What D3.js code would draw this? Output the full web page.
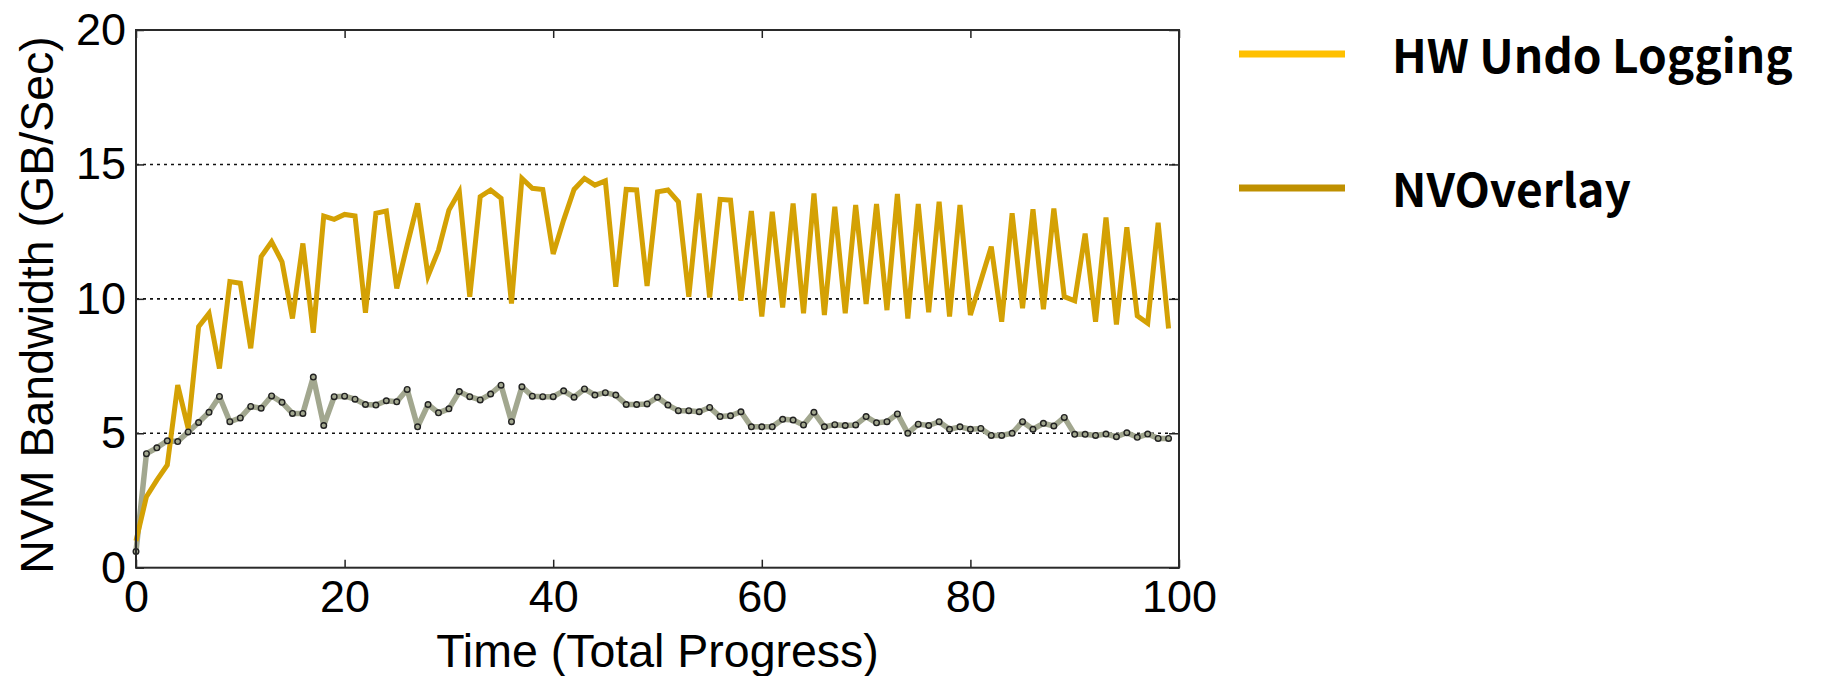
<!DOCTYPE html>
<html>
<head>
<meta charset="utf-8">
<script src="https://cdn.jsdelivr.net/npm/d3@7"></script>
<style>
  body { margin: 0; background: #fff; }
  svg { display: block; }
</style>
</head>
<body>
<div id="chart"></div>
<script>
// values, one per progress step (0..99)
var hwUndo = [
  1.0, 2.64, 3.26, 3.82, 6.79, 5.18, 8.96, 9.46, 7.41, 10.64,
  10.58, 8.16, 11.57, 12.12, 11.38, 9.27, 12.06, 8.74, 13.08, 12.96,
  13.14, 13.08, 9.48, 13.18, 13.27, 10.39, 12.0, 13.55, 10.85, 11.81,
  13.30, 13.98, 10.08, 13.80, 14.05, 13.74, 9.83, 14.48, 14.11, 14.07,
  11.67, 12.93, 14.07, 14.48, 14.23, 14.39, 10.45, 14.07, 14.05, 10.48,
  13.98, 14.05, 13.61, 10.08, 13.92, 10.05, 13.70, 13.67, 9.93, 13.27,
  9.34, 13.24, 9.68, 13.55, 9.46, 13.92, 9.40, 13.43, 9.46, 13.49,
  9.81, 13.53, 9.58, 13.90, 9.27, 13.53, 9.50, 13.61, 9.34, 13.49,
  9.40, 10.67, 11.94, 9.15, 13.18, 9.65, 13.33, 9.61, 13.36, 10.08,
  9.93, 12.43, 9.15, 13.03, 9.05, 12.66, 9.37, 9.09, 12.83, 8.90
]
var nvOverlay = [
  0.6, 4.24, 4.46, 4.72, 4.69, 5.05, 5.40, 5.78, 6.37, 5.43,
  5.57, 6.00, 5.93, 6.39, 6.15, 5.74, 5.74, 7.09, 5.29, 6.36,
  6.38, 6.27, 6.07, 6.05, 6.21, 6.17, 6.63, 5.24, 6.07, 5.76,
  5.91, 6.55, 6.36, 6.24, 6.46, 6.79, 5.43, 6.73, 6.38, 6.36,
  6.36, 6.58, 6.34, 6.65, 6.42, 6.51, 6.42, 6.07, 6.07, 6.09,
  6.34, 6.05, 5.84, 5.84, 5.80, 5.96, 5.62, 5.65, 5.80, 5.24,
  5.24, 5.24, 5.52, 5.49, 5.31, 5.78, 5.24, 5.32, 5.29, 5.31,
  5.62, 5.39, 5.43, 5.72, 5.00, 5.34, 5.29, 5.43, 5.15, 5.24,
  5.15, 5.18, 4.92, 4.92, 5.00, 5.43, 5.15, 5.37, 5.27, 5.59,
  4.96, 4.96, 4.92, 4.97, 4.87, 5.02, 4.85, 4.97, 4.81, 4.81
]
var xTicks = [0, 20, 40, 60, 80, 100]
var yTicks = [0, 5, 10, 15, 20]
var gridLines = [5, 10, 15]
var legendNames = ["HW Undo Logging", "NVOverlay"]
var legendColors = ["#ffc000", "#bf9000"]

var width = 1821, height = 676
var plotL = 136, plotR = 1179, plotT = 30, plotB = 567.7
var axisFont = "'Liberation Sans', Arial, Helvetica, sans-serif"

var svg = d3.select("#chart").append("svg")
  .attr("width", width).attr("height", height)

var x = d3.scaleLinear().domain([0, 100]).range([plotL, plotR])
var y = d3.scaleLinear().domain([0, 20]).range([plotB, plotT])

// dotted grid
svg.selectAll("line.grid")
  .data(gridLines)
  .enter()
  .append("line")
  .attr("class", "grid")
  .attr("x1", plotL).attr("x2", plotR)
  .attr("y1", function(d) { return y(d) })
  .attr("y2", function(d) { return y(d) })
  .attr("stroke", "#111")
  .attr("stroke-width", 1.6)
  .attr("stroke-dasharray", "3,4")

// series
var line = d3.line()
  .x(function(d, i) { return x(i) })
  .y(function(d) { return y(d) })

svg.append("path")
  .datum(nvOverlay)
  .attr("d", line)
  .attr("fill", "none")
  .attr("stroke", "#a2a78f")
  .attr("stroke-width", 5.5)
  .attr("stroke-linejoin", "round")

svg.append("path")
  .datum(hwUndo)
  .attr("d", line)
  .attr("fill", "none")
  .attr("stroke", "#d4a104")
  .attr("stroke-width", 5)
  .attr("stroke-linejoin", "miter")

svg.selectAll("circle.pt")
  .data(nvOverlay)
  .enter()
  .append("circle")
  .attr("class", "pt")
  .attr("cx", function(d, i) { return x(i) })
  .attr("cy", function(d) { return y(d) })
  .attr("r", 2.8)
  .attr("fill", "#a2a78f")
  .attr("stroke", "#222")
  .attr("stroke-width", 1.4)

// axes, ticks pointing inward
function styleAxis(g) {
  g.select(".domain").remove()
  g.selectAll(".tick line").attr("stroke", "#222").attr("stroke-width", 1.5)
  g.selectAll("text")
    .attr("font-family", axisFont)
    .attr("font-size", 45)
    .attr("fill", "#000")
}

svg.append("g")
  .attr("transform", "translate(0," + plotB + ")")
  .call(d3.axisBottom(x).tickValues(xTicks).tickSize(-8).tickPadding(12))
  .call(styleAxis)

svg.append("g")
  .attr("transform", "translate(0," + plotT + ")")
  .call(d3.axisTop(x).tickValues(xTicks).tickSize(-8).tickFormat(""))
  .call(styleAxis)

svg.append("g")
  .attr("transform", "translate(" + plotL + ",0)")
  .call(d3.axisLeft(y).tickValues(yTicks).tickSize(-8).tickPadding(10))
  .call(styleAxis)

svg.append("g")
  .attr("transform", "translate(" + plotR + ",0)")
  .call(d3.axisRight(y).tickValues(yTicks).tickSize(-10).tickFormat(""))
  .call(styleAxis)

// frame
svg.append("rect")
  .attr("x", plotL).attr("y", plotT)
  .attr("width", plotR - plotL).attr("height", plotB - plotT)
  .attr("fill", "none")
  .attr("stroke", "#2a2a2a")
  .attr("stroke-width", 2)

// axis titles
svg.append("text")
  .attr("x", (plotL + plotR) / 2)
  .attr("y", 667)
  .attr("text-anchor", "middle")
  .attr("font-family", axisFont)
  .attr("font-size", 46.5)
  .text("Time (Total Progress)")

svg.append("text")
  .attr("transform", "translate(53,305) rotate(-90)")
  .attr("text-anchor", "middle")
  .attr("font-family", axisFont)
  .attr("font-size", 46.5)
  .text("NVM Bandwidth (GB/Sec)")

// legend
var legend = svg.selectAll("g.legend")
  .data(legendNames)
  .enter()
  .append("g")
  .attr("class", "legend")
  .attr("transform", function(d, i) { return "translate(0," + (54 + i * 134) + ")" })

legend.append("line")
  .attr("x1", 1239).attr("x2", 1345)
  .attr("y1", 0).attr("y2", 0)
  .attr("stroke", function(d, i) { return legendColors[i] })
  .attr("stroke-width", 7)

legend.append("text")
  .attr("x", 1392)
  .attr("y", 19)
  .attr("font-family", "'Noto Sans CJK SC', 'Noto Sans', sans-serif")
  .attr("font-weight", "bold")
  .attr("font-size", 46)
  .text(function(d) { return d })
</script>
</body>
</html>
